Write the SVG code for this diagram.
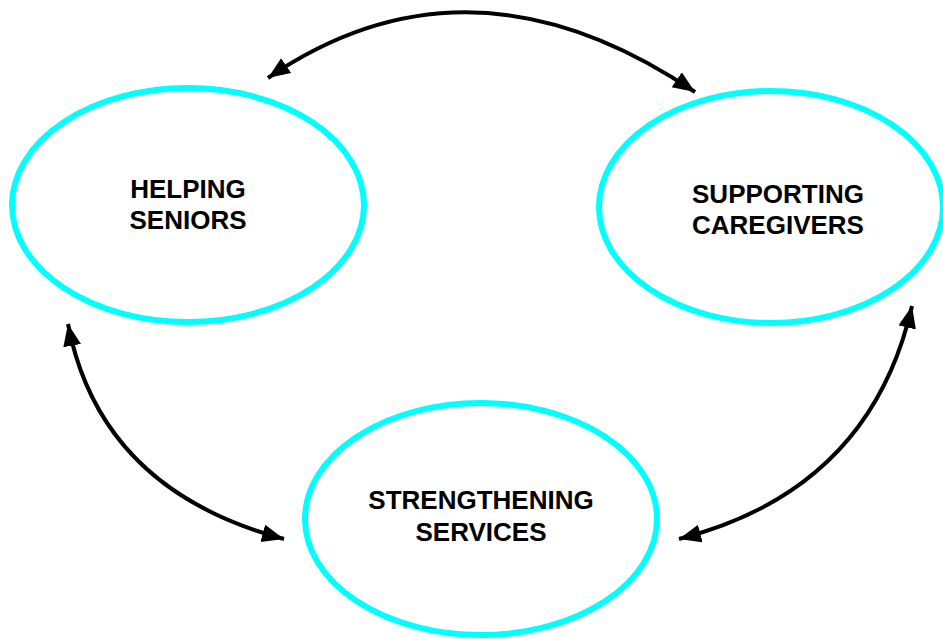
<svg xmlns="http://www.w3.org/2000/svg" width="943" height="639" viewBox="0 0 943 639">
<style>
.node ellipse{fill:#fff;stroke:#00ffff;stroke-width:6}
.node text{font-family:"Liberation Sans",Arial,sans-serif;font-weight:bold;font-size:26px;fill:#000;text-anchor:middle}
.conn path{fill:none;stroke:#000;stroke-width:4;marker-start:url(#ah);marker-end:url(#ah)}
</style>
<defs>
<marker id="ah" markerUnits="userSpaceOnUse" markerWidth="24" markerHeight="20" refX="22" refY="9" orient="auto-start-reverse" viewBox="0 0 24 20">
<path d="M0,0 L22,9 L0,18 z" fill="#000"/>
</marker>
</defs>
<rect width="943" height="639" fill="#fff"/>
<g id="helping-seniors" class="node">
<ellipse cx="188" cy="205" rx="176" ry="117"/>
<text x="188" y="198">HELPING</text>
<text x="188" y="229">SENIORS</text>
</g>
<g id="supporting-caregivers" class="node">
<ellipse cx="771" cy="207" rx="172" ry="116"/>
<text x="778" y="203">SUPPORTING</text>
<text x="778" y="234">CAREGIVERS</text>
</g>
<g id="strengthening-services" class="node">
<ellipse cx="481" cy="519" rx="176" ry="116"/>
<text x="481" y="509">STRENGTHENING</text>
<text x="481" y="541">SERVICES</text>
</g>
<g id="connectors" class="conn">
<path d="M268,78 Q470,-60 695,92"/>
<path d="M68,324 Q100,490 284,539"/>
<path d="M912,306 Q870,490 679,539"/>
</g>
</svg>
